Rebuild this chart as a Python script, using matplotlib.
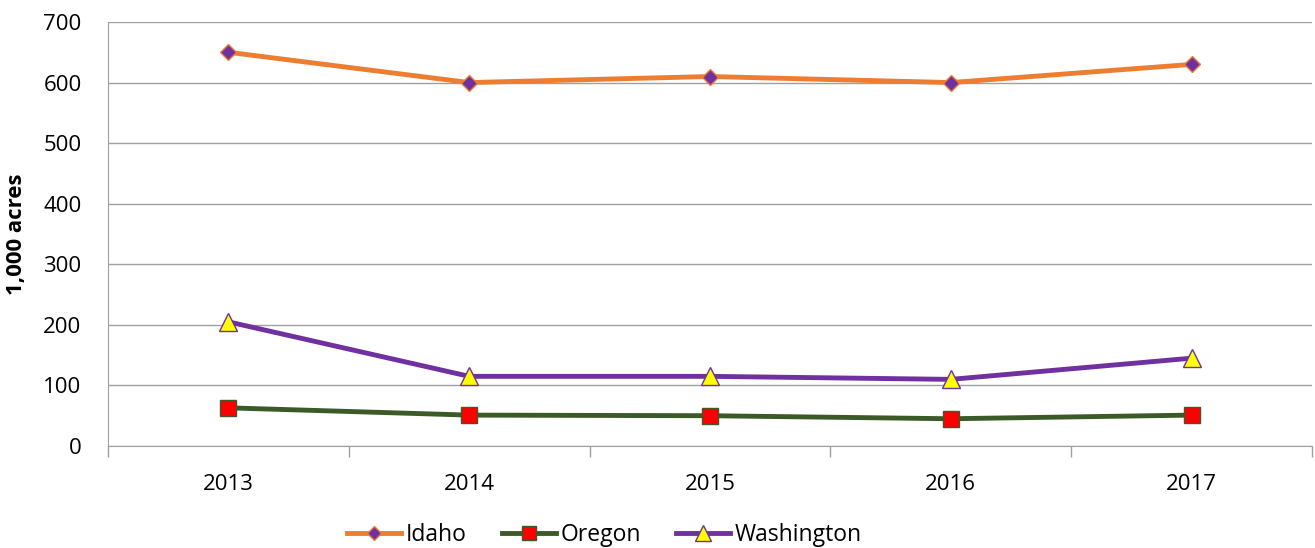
import matplotlib
matplotlib.use("Agg")
import matplotlib.pyplot as plt
import numpy as np

years = ["2013", "2014", "2015", "2016", "2017"]
idaho = [650, 600, 610, 600, 630]
oregon = [63, 51, 50, 45, 51]
washington = [205, 115, 115, 110, 145]
yticks = [0, 100, 200, 300, 400, 500, 600, 700]

plt.rcParams['font.family'] = ['Open Sans', 'DejaVu Sans']

W, H = 1315, 548
fig = plt.figure(figsize=(W/100, H/100), dpi=100)
ax = fig.add_axes([108/W, 1 - 446/H, (1312-108)/W, (446-22)/H])

x = np.arange(len(years))
ax.plot(x, idaho, color='#ED7D31', lw=3.5, marker='D', ms=8, mfc='#7030A0', mec='#ED7D31', mew=1, label='Idaho', zorder=4)
ax.plot(x, oregon, color='#3B5A27', lw=3.5, marker='s', ms=12, mfc='#FF0000', mec='#3B5A27', mew=1, label='Oregon', zorder=4)
ax.plot(x, washington, color='#7030A0', lw=3.5, marker='^', ms=13, mfc='#FFFF00', mec='#7030A0', mew=1, label='Washington', zorder=4)

ax.set_xlim(-0.5, len(years) - 0.5)
ax.set_ylim(0, 700)
ax.set_yticks(yticks)
ax.set_yticklabels([str(v) for v in yticks], fontsize=16)
ax.set_xticks(x)
ax.set_xticklabels(years, fontsize=16)
ax.tick_params(axis='x', which='major', length=0, pad=20)
ax.set_xticks(np.arange(-0.5, len(years)), minor=True)
ax.tick_params(axis='x', which='minor', length=8, color='#A0A0A0', width=1)
ax.tick_params(axis='y', length=0, pad=19)
ax.grid(axis='y', color='#A0A0A0', lw=1)
ax.set_axisbelow(True)
for s in ['top', 'right']:
    ax.spines[s].set_visible(False)
for s in ['left', 'bottom']:
    ax.spines[s].set_color('#A0A0A0')
ax.set_ylabel('1,000 acres', fontsize=16, fontweight='bold')
ax.yaxis.set_label_coords((27 - 108) / (1312 - 108), 0.5)

leg = fig.legend(*ax.get_legend_handles_labels(), loc='center left',
                 bbox_to_anchor=(347/W, 1 - 535/H), ncol=3, frameon=False,
                 fontsize=16.5, handlelength=2.35, columnspacing=1.55, handletextpad=0.2,
                 borderpad=0, borderaxespad=0, markerscale=0.85)

fig.savefig('out.png', dpi=100)
